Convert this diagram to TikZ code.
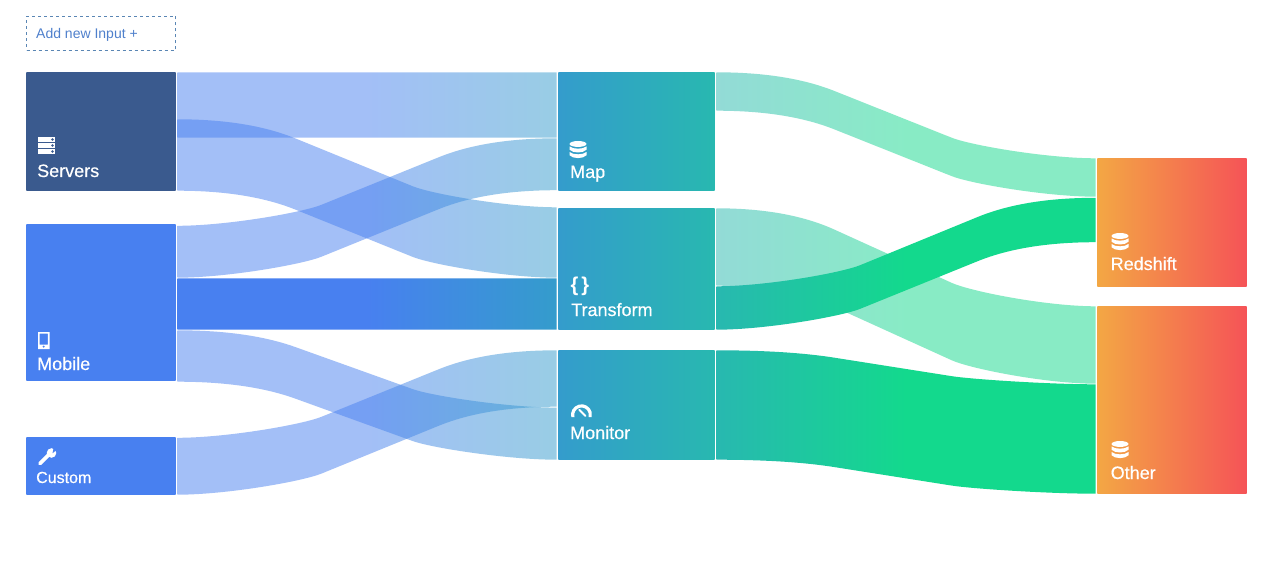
\documentclass[tikz,border=0pt]{standalone}
\usepackage{fontspec}
\setmainfont{Liberation Sans}
\newfontfamily\labfont[FakeBold=0.4]{Liberation Sans}
\usetikzlibrary{calc}
\definecolor{srvblue}{HTML}{3A5A8E}
\definecolor{inblue}{HTML}{4880F0}
\definecolor{midl}{HTML}{349CCC}
\definecolor{midr}{HTML}{28B8B0}
\definecolor{grn}{HTML}{13D98D}
\definecolor{orng}{HTML}{F3A744}
\definecolor{redd}{HTML}{F55357}
\definecolor{btnline}{HTML}{5A86B4}
\definecolor{btntext}{HTML}{4F80CC}
\tikzset{
  box/.style={rectangle,draw=none,inner sep=0pt,outer sep=0pt,anchor=north west},
  srcbox/.style={box,left color=#1,right color=#1},
  midbox/.style={box,left color=midl,right color=midr},
  endbox/.style={box,left color=orng,right color=redd},
  lab/.style={anchor=base west,inner sep=0pt,text=white,font=\labfont\fontsize{18}{18}\selectfont},
  icon/.style={fill=white,draw=none},
  softA/.style={left color=inblue,right color=midl,middle color=inblue,fill opacity=0.5,draw=none},
  hardA/.style={left color=inblue,right color=midl,middle color=inblue,draw=none},
  softB/.style={left color=midr,right color=grn,middle color=grn,fill opacity=0.5,draw=none},
  hardB/.style={left color=midr,right color=grn,middle color=grn,draw=none},
}
% point at fractions (#3 along x, #4 along y) of the way from \p#1 to \p#2
\newcommand{\bz}[4]{({\x#1+#3*(\x#2-\x#1)},{\y#1+#4*(\y#2-\y#1)})}
% S-shaped edge, shape measured from its start point #1
\newcommand{\fwd}[2]{.. controls \bz#1#2{.125}{0} and \bz#1#2{.228}{.072} .. \bz#1#2{.31}{.215}
   -- \bz#1#2{.62}{.76} .. controls \bz#1#2{.67}{.848} and \bz#1#2{.87}{1} .. }
% same shape walked backwards: measured from its end point #2
\newcommand{\bwd}[2]{.. controls \bz#2#1{.87}{1} and \bz#2#1{.67}{.848} .. \bz#2#1{.62}{.76}
   -- \bz#2#1{.31}{.215} .. controls \bz#2#1{.228}{.072} and \bz#2#1{.125}{0} .. }
% ports: {source}{top}{bottom}{target}{top}{bottom} (offsets from node tops)
\newcommand{\ports}[6]{%
  \coordinate (fa) at ([xshift=1.6pt,yshift={-(#2)*1pt}]#1.north east);
  \coordinate (fb) at ([xshift=1.6pt,yshift={(0.6-#3)*1pt}]#1.north east);
  \coordinate (fc) at ([xshift=-1.6pt,yshift={-(#5)*1pt}]#4.north west);
  \coordinate (fd) at ([xshift=-1.6pt,yshift={(0.6-#6)*1pt}]#4.north west);
}
\newcommand{\fallband}[7]{\ports{#2}{#3}{#4}{#5}{#6}{#7}
  \path[#1] let \p1=(fa),\p2=(fb),\p3=(fc),\p4=(fd) in
     (fa) \fwd13 (fc) -- (fd) \bwd42 (fb) -- cycle;}
\newcommand{\riseband}[7]{\ports{#2}{#3}{#4}{#5}{#6}{#7}
  \path[#1] let \p1=(fa),\p2=(fb),\p3=(fc),\p4=(fd) in
     (fa) \bwd13 (fc) -- (fd) \fwd42 (fb) -- cycle;}
\newcommand{\dbicon}[2]{%
  \begin{scope}[shift={(#1,#2)},yscale=1.1]
    \fill[icon] (0,2.7) ellipse [x radius=8.5,y radius=2.7];
    \foreach \q in {4.9,10}{
      \fill[icon] (-8.5,\q) .. controls (-5,\q+2.8) and (5,\q+2.8) .. (8.5,\q) -- (8.5,\q+3)
        .. controls (5,\q+6.4) and (-5,\q+6.4) .. (-8.5,\q+3) -- cycle;
    }
  \end{scope}}
\begin{document}
\begin{tikzpicture}[x=1pt,y=-1pt]
\useasboundingbox (0,0) rectangle (1273,564);
\fill[white] (0,0) rectangle (1273,564);
% nodes
\node[srcbox=srvblue,minimum width=149.4pt,minimum height=118.4pt] (servers) at (26.3,72.3) {};
\node[srcbox=inblue,minimum width=149.4pt,minimum height=156.4pt] (mobile) at (26.3,224.3) {};
\node[srcbox=inblue,minimum width=149.4pt,minimum height=57.4pt] (custom) at (26.3,437.3) {};
\node[midbox,minimum width=156.4pt,minimum height=118.4pt] (map) at (558.3,72.3) {};
\node[midbox,minimum width=156.4pt,minimum height=121.4pt] (transform) at (558.3,208.3) {};
\node[midbox,minimum width=156.4pt,minimum height=109.4pt] (monitor) at (558.3,350.3) {};
\node[endbox,minimum width=149.4pt,minimum height=128.4pt] (redshift) at (1097.3,158.3) {};
\node[endbox,minimum width=149.4pt,minimum height=187.4pt] (other) at (1097.3,306.3) {};
% flows
\fallband{softA}{servers}{0}{66}{map}{0}{66}
\fallband{softA}{servers}{47}{119}{transform}{-1}{70}
\riseband{softA}{mobile}{1.5}{54}{map}{66}{118.5}
\fallband{hardA}{mobile}{54}{106}{transform}{70}{122}
\fallband{softA}{mobile}{106}{158}{monitor}{57.3}{110}
\riseband{softA}{custom}{0.5}{58}{monitor}{0}{57}
\fallband{softB}{map}{0}{39}{redshift}{0}{39}
\fallband{softB}{transform}{0}{78}{other}{0}{78}
\riseband{hardB}{transform}{78}{122}{redshift}{39.5}{84.5}
\fallband{hardB}{monitor}{0}{110}{other}{78}{188}
% button
\node[box,draw=btnline,dashed,line width=0.8pt,minimum width=149pt,minimum height=34pt] (addinput) at (26.5,16.5) {};
\node[anchor=base west,inner sep=0pt,text=btntext,font=\fontsize{14}{14}\selectfont] (addlabel) at (36,38.5) {Add new Input +};
% labels
\node[lab] (lservers) at (37,177) {Servers};
\node[lab] (lmobile) at (37,370) {Mobile};
\node[lab,font=\labfont\fontsize{16}{16}\selectfont] (lcustom) at (36,483) {Custom};
\node[lab] (lmap) at (570,178) {Map};
\node[lab] (ltransform) at (571,316) {Transform};
\node[lab] (lmonitor) at (570,439) {Monitor};
\node[lab] (lredshift) at (1110.5,270) {Redshift};
\node[lab] (lother) at (1110.5,479) {Other};
\node[lab,font=\bfseries\fontsize{20}{20}\selectfont] (lbraces) at (570.5,291) {\{\kern3pt\}};
% icons
\foreach \q in {137,143,149}{
  \fill[icon] (38,\q) rectangle (55,\q+5);
  \fill[srvblue] (52.5,\q+2.5) circle (1.4);
}
\fill[icon,even odd rule] (38,332) rectangle (49.5,349) (39.7,333.5) rectangle (47.8,344.5);
\fill[inblue] (43.7,346.6) circle (1.1);
\draw[white,line width=3.6pt,line cap=round] (40,463.5) -- (50,453.5);
\fill[icon] (51.5,453) circle (4.8);
\fill[inblue] (52.5,453.2) -- (58,449) -- (54,446) -- cycle;
\dbicon{578}{141}
\dbicon{1120}{233}
\dbicon{1120}{441}
\draw[white,line width=3.2pt] (581.5,414.8) ++(165:8.9) arc[start angle=165,end angle=375,radius=8.9];
\draw[white,line width=1.8pt,line cap=round] (579.3,409.8) -- (585.5,416);
\end{tikzpicture}
\end{document}
